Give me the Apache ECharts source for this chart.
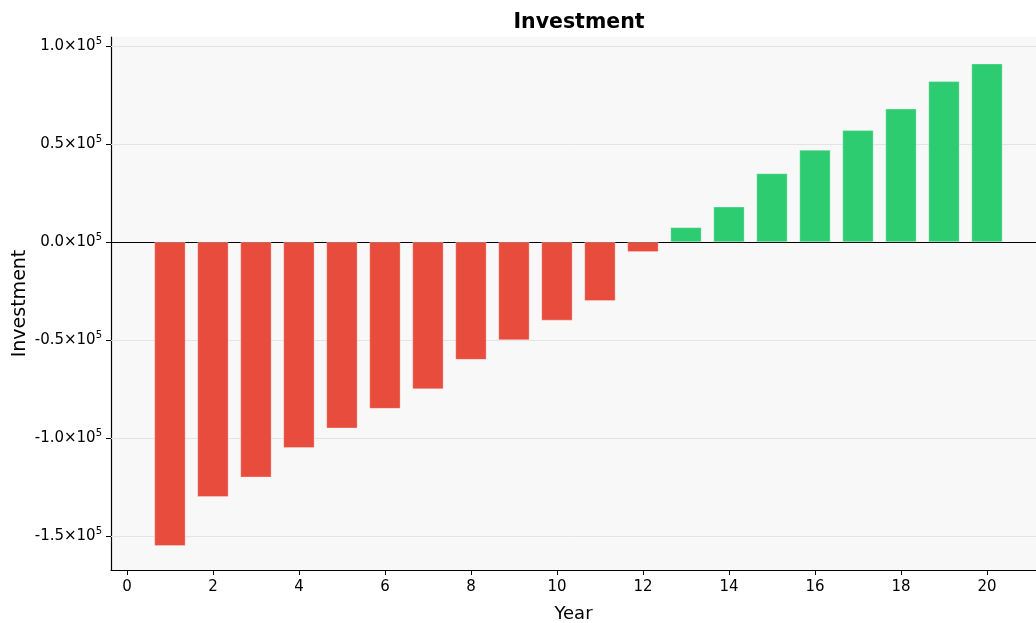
<!DOCTYPE html>
<html><head><meta charset="utf-8">
<script src="https://cdn.jsdelivr.net/npm/echarts@6/dist/echarts.min.js"></script>
<style>html,body{margin:0;padding:0;background:#fff}#c{width:1036px;height:623px}</style>
</head><body><div id="c"></div>
<script>
const years = [1,2,3,4,5,6,7,8,9,10,11,12,13,14,15,16,17,18,19,20];
const investment = [-155000,-130000,-120000,-105000,-95000,-85000,-75000,-60000,-50000,-40000,-30000,-5000,7500,18000,35000,47000,57000,68000,82000,91000];
const xTicks = [0,2,4,6,8,10,12,14,16,18,20];
const yTicks = [-150000,-100000,-50000,0,50000,100000];
const title = 'Investment';
const xName = 'Year';
const yName = 'Investment';

const FONT = 'DejaVu Sans, sans-serif';
const chart = echarts.init(document.getElementById('c'));
function fmtY(v){
  const m = (v/1e5).toFixed(1);
  return '{a|' + m + '×10}{b|5}';
}
chart.setOption({
  animation:false,
  backgroundColor:'#fff',
  title:{text:title,left:574,textAlign:'center',top:7,textStyle:{fontFamily:FONT,fontSize:20.5,fontWeight:'bold',color:'#000'}},
  grid:{left:111,right:0,top:37,bottom:53,show:true,backgroundColor:'#f8f8f8',borderWidth:0,outerBoundsMode:'none',containLabel:false},
  xAxis:{type:'value',min:-0.37,max:21.14,name:xName,nameLocation:'middle',nameGap:35,nameMoveOverlap:false,
    nameTextStyle:{fontFamily:FONT,fontSize:18,color:'#000'},
    axisLine:{show:true,onZero:false,lineStyle:{color:'#000',width:1.2}},
    axisTick:{show:true,customValues:xTicks,length:5,lineStyle:{color:'#000'}},
    axisLabel:{customValues:xTicks,fontFamily:FONT,fontSize:15,color:'#000',margin:10},
    splitLine:{show:false}},
  yAxis:{type:'value',min:-167300,max:104600,name:yName,nameLocation:'middle',nameGap:81,nameMoveOverlap:false,
    nameTextStyle:{fontFamily:FONT,fontSize:19,color:'#000'},
    axisLine:{show:true,onZero:false,lineStyle:{color:'#000',width:1.2}},
    axisTick:{show:true,customValues:yTicks,length:5,lineStyle:{color:'#000'}},
    axisLabel:{customValues:yTicks,formatter:fmtY,margin:9,
      rich:{a:{fontFamily:FONT,fontSize:15,color:'#000'},b:{fontFamily:FONT,fontSize:10,color:'#000',verticalAlign:'top',padding:[0,0,9,0]}}},
    splitLine:{show:false}},
  series:[{
    type:'bar',barWidth:31,
    data:years.map((y,i)=>({value:[y,investment[i]],itemStyle:{color:investment[i]<0?'#e74c3c':'#2ecc71',borderColor:'rgba(255,255,255,0.5)',borderWidth:0.6}})),
    markLine:{silent:true,symbol:'none',label:{show:false},
      data:yTicks.filter(v=>v!==0).map(v=>({yAxis:v,lineStyle:{color:'#e4e4e4',width:1,type:'solid'}}))
        .concat([{yAxis:0,lineStyle:{color:'#000',width:1.2,type:'solid'}}]),
      z:1}
  }]
});
</script></body></html>
